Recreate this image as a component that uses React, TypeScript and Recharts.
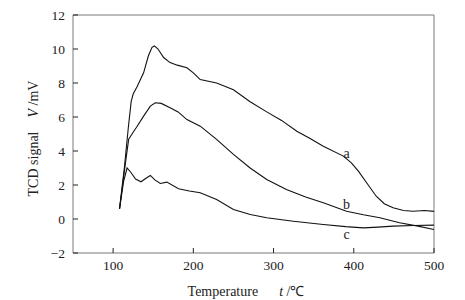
import { Line, LineChart, ReferenceDot, ReferenceLine, XAxis, YAxis } from "recharts";

// TCD signal (mV) vs temperature (°C)
const curveA = [
  { t: 108, v: 0.6 }, { t: 114, v: 3.0 }, { t: 119, v: 5.4 }, { t: 122.5, v: 6.9 },
  { t: 125, v: 7.35 }, { t: 130, v: 7.8 }, { t: 138, v: 8.6 }, { t: 144, v: 9.6 },
  { t: 148.5, v: 10.1 }, { t: 151.5, v: 10.18 }, { t: 156, v: 10.0 }, { t: 163, v: 9.5 },
  { t: 171, v: 9.2 }, { t: 180, v: 9.05 }, { t: 192, v: 8.9 }, { t: 200, v: 8.6 },
  { t: 208.6, v: 8.2 }, { t: 229, v: 8.0 }, { t: 250, v: 7.6 }, { t: 270.8, v: 6.9 },
  { t: 291.5, v: 6.3 }, { t: 310, v: 5.8 }, { t: 329, v: 5.16 }, { t: 345, v: 4.75 },
  { t: 362, v: 4.28 }, { t: 387, v: 3.7 }, { t: 397, v: 3.3 }, { t: 406, v: 2.8 },
  { t: 416, v: 2.13 }, { t: 428, v: 1.34 }, { t: 438, v: 0.9 }, { t: 449, v: 0.66 },
  { t: 462, v: 0.5 }, { t: 474, v: 0.46 }, { t: 488, v: 0.5 }, { t: 500, v: 0.45 },
];
const curveB = [
  { t: 108, v: 0.6 }, { t: 114, v: 2.8 }, { t: 119.4, v: 4.7 }, { t: 125, v: 5.1 },
  { t: 130, v: 5.46 }, { t: 138, v: 6.05 }, { t: 146.4, v: 6.64 }, { t: 152.6, v: 6.84 },
  { t: 160, v: 6.8 }, { t: 171, v: 6.54 }, { t: 181, v: 6.3 }, { t: 192, v: 5.85 },
  { t: 208.6, v: 5.46 }, { t: 229, v: 4.68 }, { t: 250, v: 3.8 }, { t: 270.8, v: 3.0 },
  { t: 291.5, v: 2.32 }, { t: 316, v: 1.74 }, { t: 340, v: 1.3 }, { t: 362, v: 0.95 },
  { t: 391, v: 0.46 }, { t: 412, v: 0.25 }, { t: 432.5, v: 0.07 }, { t: 457, v: -0.22 },
  { t: 480, v: -0.42 }, { t: 500, v: -0.62 },
];
const curveC = [
  { t: 108, v: 0.6 }, { t: 113, v: 2.2 }, { t: 117.4, v: 3.0 }, { t: 122, v: 2.75 },
  { t: 128, v: 2.35 }, { t: 134.8, v: 2.19 }, { t: 141, v: 2.4 }, { t: 146.4, v: 2.56 },
  { t: 152, v: 2.3 }, { t: 158.8, v: 2.09 }, { t: 167, v: 2.17 }, { t: 181.6, v: 1.78 },
  { t: 195, v: 1.65 }, { t: 208.6, v: 1.54 }, { t: 229, v: 1.15 }, { t: 250, v: 0.56 },
  { t: 271, v: 0.26 }, { t: 291.5, v: 0.07 }, { t: 324.6, v: -0.13 }, { t: 362, v: -0.32 },
  { t: 390, v: -0.45 }, { t: 412, v: -0.52 }, { t: 430, v: -0.48 }, { t: 449, v: -0.42 },
  { t: 475, v: -0.38 }, { t: 500, v: -0.36 },
];
const xTicks = [100, 200, 300, 400, 500];
const yTicks = [-2, 0, 2, 4, 6, 8, 10, 12];
const curveLabels = [
  { name: "a", t: 391, v: 3.9 },
  { name: "b", t: 391, v: 0.9 },
  { name: "c", t: 391, v: -0.9 },
];

const font = "'Liberation Serif', 'Times New Roman', serif";
const axisGray = "#7a7a7a";

const fmt = (n: number) => (n < 0 ? `\u2212${Math.abs(n)}` : `${n}`);

const XTick = ({ x, y, payload }: any) => (
  <g>
    <line x1={x} y1={y} x2={x} y2={y - 5} stroke="#222" />
    <text x={x} y={y + 17} textAnchor="middle" fontSize={13.5} fontFamily={font} fill="#222">
      {fmt(payload.value)}
    </text>
  </g>
);

const YTick = ({ x, y, payload }: any) => (
  <g>
    <line x1={x} y1={y} x2={x + 5} y2={y} stroke="#222" />
    <text x={x - 8} y={y + 5} textAnchor="end" fontSize={13.5} fontFamily={font} fill="#222">
      {fmt(payload.value)}
    </text>
  </g>
);

export default function App() {
  return (
    <div style={{ position: "absolute", left: 0, top: 0, background: "#fff" }}>
      <LineChart width={465} height={300} margin={{ top: 15, right: 31, bottom: 16, left: 0 }}>
        <XAxis
          type="number"
          dataKey="t"
          domain={[50, 500]}
          ticks={xTicks}
          allowDataOverflow
          height={31}
          stroke={axisGray}
          tickLine={false}
          tickSize={0}
          tickMargin={0}
          tick={<XTick />}
        />
        <YAxis
          type="number"
          dataKey="v"
          domain={[-2, 12]}
          ticks={yTicks}
          width={73}
          stroke={axisGray}
          tickLine={false}
          tickSize={0}
          tickMargin={0}
          tick={<YTick />}
        />
        <ReferenceLine y={12} stroke={axisGray} />
        <ReferenceLine x={500} stroke={axisGray} />
        <Line data={curveA} dataKey="v" type="linear" stroke="#111" strokeWidth={1.1} dot={false} isAnimationActive={false} />
        <Line data={curveB} dataKey="v" type="linear" stroke="#111" strokeWidth={1.1} dot={false} isAnimationActive={false} />
        <Line data={curveC} dataKey="v" type="linear" stroke="#111" strokeWidth={1.1} dot={false} isAnimationActive={false} />
        {curveLabels.map((c) => (
          <ReferenceDot
            key={c.name}
            x={c.t}
            y={c.v}
            r={0}
            stroke="none"
            label={{ value: c.name, position: "center", fontSize: 14, fontFamily: font, fill: "#222" }}
          />
        ))}
      </LineChart>
      <svg width={465} height={300} style={{ position: "absolute", left: 0, top: 0, pointerEvents: "none" }}>
        <text x={246} y={296} textAnchor="middle" fontSize={14} fontFamily={font} fill="#222">
          Temperature{"\u2003\u2002"}
          <tspan fontStyle="italic">t</tspan> /℃
        </text>
        <text
          x={0}
          y={0}
          transform="translate(38,138.5) rotate(-90)"
          textAnchor="middle"
          fontSize={14}
          fontFamily={font}
          fill="#222"
        >
          TCD signal{"\u2003"}
          <tspan fontStyle="italic">V</tspan> /mV
        </text>
      </svg>
    </div>
  );
}
